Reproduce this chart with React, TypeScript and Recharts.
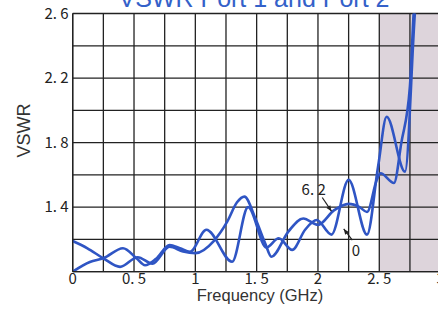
import React from 'react';
import {
  LineChart,
  Line,
  XAxis,
  YAxis,
  CartesianGrid,
  ReferenceLine,
  ReferenceDot,
} from 'recharts';

// VSWR curve 1 (labelled 6.2)
const freqA = [0, 0.12, 0.25, 0.386, 0.53, 0.65, 0.79, 0.9, 1.0, 1.15, 1.26, 1.34, 1.4, 1.49, 1.57, 1.62, 1.76, 1.88, 2.0, 2.13, 2.25, 2.34, 2.4, 2.48, 2.51, 2.62, 2.68, 2.75, 2.78, 2.82];
const vswrA = [1.19, 1.145, 1.083, 1.03, 1.09, 1.05, 1.155, 1.125, 1.115, 1.19, 1.31, 1.43, 1.465, 1.33, 1.175, 1.093, 1.25, 1.33, 1.29, 1.38, 1.42, 1.4, 1.37, 1.57, 1.61, 1.55, 1.8, 2.15, 2.6, 3.0];

// VSWR curve 2 (labelled 0)
const freqB = [0, 0.14, 0.25, 0.41, 0.52, 0.59, 0.68, 0.79, 0.875, 0.957, 1.09, 1.3, 1.43, 1.58, 1.68, 1.79, 1.895, 1.99, 2.11, 2.25, 2.4, 2.49, 2.56, 2.71, 2.79, 2.83];
const vswrB = [1.0, 1.06, 1.083, 1.145, 1.083, 1.04, 1.08, 1.165, 1.145, 1.124, 1.26, 1.062, 1.4, 1.15, 1.207, 1.135, 1.26, 1.32, 1.23, 1.57, 1.23, 1.65, 1.96, 1.62, 2.6, 3.0];

const xTicks = [0, 0.25, 0.5, 0.75, 1, 1.25, 1.5, 1.75, 2, 2.25, 2.5, 2.75, 3];
const xLabelled = [0, 0.5, 1, 1.5, 2, 2.5, 3];
const yTicks = [1.0, 1.2, 1.4, 1.6, 1.8, 2.0, 2.2, 2.4, 2.6];
const yLabelled = [1.4, 1.8, 2.2, 2.6];
const shadedFrom = 2.5; // band above 2.5 GHz is shaded

const seriesA = freqA.map((f, i) => ({ f, v: vswrA[i] }));
const seriesB = freqB.map((f, i) => ({ f, v: vswrB[i] }));

const BLUE = '#2f55c4';
const INK = '#222';
const SHADE = '#ddd4db';
const tickFont = '"Noto Sans CJK JP", sans-serif';
const tickStyle = { fill: INK, fontSize: 15, fontFamily: tickFont };

// stripe colours between vertical grid lines (grid adds a zero-width stripe first)
const stripeFill = ['none', ...xTicks.slice(0, -1).map((t) => (t >= shadedFrom ? SHADE : 'none'))];

const fmt = (v: number) => (Number.isInteger(v) ? String(v) : v.toFixed(1).replace('.', '. '));

// leader line with a small arrow head at its end
const Arrow = (props: any) => {
  const { x1, y1, x2, y2 } = props;
  const a = Math.atan2(y2 - y1, x2 - x1);
  const s = 6;
  const p1 = [x2 - s * Math.cos(a - 0.4), y2 - s * Math.sin(a - 0.4)];
  const p2 = [x2 - s * Math.cos(a + 0.4), y2 - s * Math.sin(a + 0.4)];
  return (
    <g>
      <line x1={x1} y1={y1} x2={x2} y2={y2} stroke={INK} strokeWidth={1.2} />
      <path d={`M${x2},${y2}L${p1[0]},${p1[1]}L${p2[0]},${p2[1]}Z`} fill={INK} />
    </g>
  );
};

const App: React.FC = () => {
  return (
    <div style={{ position: 'absolute', left: 0, top: 0, width: 438, height: 309, overflow: 'hidden', background: '#fff' }}>
      <LineChart width={460} height={309} margin={{ top: 13.5, right: 19.4, bottom: 0, left: 12.7 }}>
        <CartesianGrid stroke={INK} strokeWidth={1.3} verticalFill={stripeFill} fillOpacity={1} />
        <XAxis
          type="number"
          dataKey="f"
          domain={[0, 3]}
          ticks={xTicks}
          allowDataOverflow
          height={37.3}
          tickSize={0}
          tickMargin={2}
          axisLine={{ stroke: INK, strokeWidth: 1.3 }}
          tick={tickStyle}
          tickFormatter={(v: number) => (xLabelled.includes(v) ? fmt(v) : '')}
          interval={0}
        />
        <YAxis
          type="number"
          domain={[1, 2.6]}
          ticks={yTicks}
          allowDataOverflow
          width={60}
          tickSize={0}
          tickMargin={4}
          axisLine={{ stroke: INK, strokeWidth: 1.3 }}
          tick={tickStyle}
          tickFormatter={(v: number) => (yLabelled.includes(v) ? fmt(v) : '')}
          interval={0}
        />
        <Line data={seriesA} dataKey="v" type="monotone" stroke={BLUE} strokeWidth={2.6} dot={false} isAnimationActive={false} />
        <Line data={seriesB} dataKey="v" type="monotone" stroke={BLUE} strokeWidth={2.6} dot={false} isAnimationActive={false} />
        <ReferenceLine segment={[{ x: 2.035, y: 1.46 }, { x: 2.11, y: 1.375 }]} shape={Arrow} />
        <ReferenceLine segment={[{ x: 2.28, y: 1.195 }, { x: 2.21, y: 1.265 }]} shape={Arrow} />
        <ReferenceDot x={1.965} y={1.51} r={0} fill="none" stroke="none"
          label={{ value: '6. 2', position: 'center', fill: INK, fontSize: 15, fontFamily: tickFont }} />
        <ReferenceDot x={2.31} y={1.128} r={0} fill="none" stroke="none"
          label={{ value: '0', position: 'center', fill: INK, fontSize: 15, fontFamily: tickFont }} />
      </LineChart>
      <svg width={438} height={309} style={{ position: 'absolute', left: 0, top: 0, pointerEvents: 'none' }}>
        <text x={254} y={6.5} textAnchor="middle" fill="#3461c9" fontSize={25} fontFamily='"Liberation Sans", Arial, sans-serif'>
          VSWR Port 1 and Port 2
        </text>
        <text x={30} y={130.5} transform="rotate(-90 30 130.5)" textAnchor="middle" fill="#333" fontSize={18} fontFamily='"Liberation Sans", Arial, sans-serif'>
          VSWR
        </text>
        <text x={260} y={301} textAnchor="middle" fill="#333" fontSize={16.5} fontFamily='"Liberation Sans", Arial, sans-serif'>
          Frequency (GHz)
        </text>
      </svg>
    </div>
  );
};

export default App;
